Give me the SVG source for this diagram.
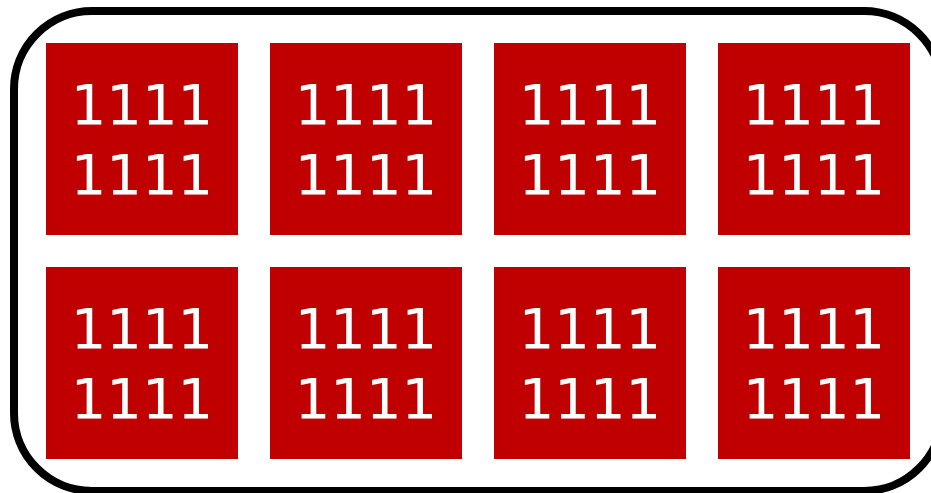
<svg xmlns="http://www.w3.org/2000/svg" width="931" height="493" viewBox="0 0 931 493">
<style>
.frame{fill:none;stroke:#000;stroke-width:8}
.cell{fill:#C00000}
.t{fill:#fff;font-family:"DejaVu Sans",sans-serif;font-size:56px;text-anchor:middle}
</style>
<rect class="frame" x="14" y="11" width="928" height="480" rx="78" ry="78"/>
<g id="n1"><rect class="cell" x="46" y="43" width="192" height="192"/><text class="t" x="142" y="124">1111</text><text class="t" x="142" y="194">1111</text></g>
<g id="n2"><rect class="cell" x="270" y="43" width="192" height="192"/><text class="t" x="366" y="124">1111</text><text class="t" x="366" y="194">1111</text></g>
<g id="n3"><rect class="cell" x="494" y="43" width="192" height="192"/><text class="t" x="590" y="124">1111</text><text class="t" x="590" y="194">1111</text></g>
<g id="n4"><rect class="cell" x="718" y="43" width="192" height="192"/><text class="t" x="814" y="124">1111</text><text class="t" x="814" y="194">1111</text></g>
<g id="n5"><rect class="cell" x="46" y="267" width="192" height="192"/><text class="t" x="142" y="348">1111</text><text class="t" x="142" y="418">1111</text></g>
<g id="n6"><rect class="cell" x="270" y="267" width="192" height="192"/><text class="t" x="366" y="348">1111</text><text class="t" x="366" y="418">1111</text></g>
<g id="n7"><rect class="cell" x="494" y="267" width="192" height="192"/><text class="t" x="590" y="348">1111</text><text class="t" x="590" y="418">1111</text></g>
<g id="n8"><rect class="cell" x="718" y="267" width="192" height="192"/><text class="t" x="814" y="348">1111</text><text class="t" x="814" y="418">1111</text></g>
<g id="connectors"/>
</svg>
